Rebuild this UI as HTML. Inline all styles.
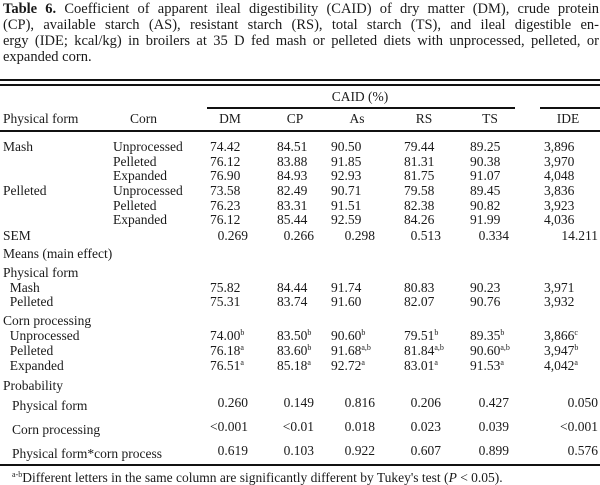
<!DOCTYPE html>
<html><head><meta charset="utf-8"><style>
body{margin:0;width:600px;height:485px;background:#fff;overflow:hidden;position:relative;font-family:"Liberation Serif",serif;color:#1a1a1a}
.t{position:absolute;font-size:13.5px;line-height:15px;white-space:nowrap}
.r{text-align:right}
.rule{position:absolute;background:#111}
sup{font-size:8px;vertical-align:5px;line-height:0}
#cap{position:absolute;left:3px;top:1px;width:596px;font-size:14.5px;line-height:16px}
#cap div{text-align:justify;text-align-last:justify;white-space:nowrap;height:16px}
#cap div.last{text-align-last:left}
</style></head><body>
<div id="cap"><div><b>Table 6.</b> Coefficient of apparent ileal digestibility (CAID) of dry matter (DM), crude protein</div><div>(CP), available starch (AS), resistant starch (RS), total starch (TS), and ileal digestible en-</div><div>ergy (IDE; kcal/kg) in broilers at 35 D fed mash or pelleted diets with unprocessed, pelleted, or</div><div class="last">expanded corn.</div></div>
<div class="rule" style="left:0;top:79px;width:600px;height:2px"></div>
<div class="rule" style="left:0;top:84px;width:600px;height:2px"></div>
<div class="rule" style="left:207px;top:107px;width:308px;height:1.5px"></div>
<div class="rule" style="left:540px;top:107px;width:60px;height:1.5px"></div>
<div class="rule" style="left:0;top:130px;width:600px;height:1.5px"></div>
<div class="rule" style="left:0;top:464px;width:600px;height:1.5px"></div>
<div id="tbl"></div>
<script>
const colsLeft=[210,277,331,404,470,544];
const colsRight=[248,314,375,441,509,598];
const hdrCenter=[230,295,357,424,490,568];
const headers=["DM","CP","As","RS","TS","IDE"];
const rows=[
 [147,"Mash","Unprocessed",["74.42","84.51","90.50","79.44","89.25","3,896"]],
 [162,"","Pelleted",["76.12","83.88","91.85","81.31","90.38","3,970"]],
 [176,"","Expanded",["76.90","84.93","92.93","81.75","91.07","4,048"]],
 [191,"Pelleted","Unprocessed",["73.58","82.49","90.71","79.58","89.45","3,836"]],
 [206,"","Pelleted",["76.23","83.31","91.51","82.38","90.82","3,923"]],
 [220,"","Expanded",["76.12","85.44","92.59","84.26","91.99","4,036"]],
 [288,"&nbsp;&nbsp;Mash","",["75.82","84.44","91.74","80.83","90.23","3,971"]],
 [302,"&nbsp;&nbsp;Pelleted","",["75.31","83.74","91.60","82.07","90.76","3,932"]],
 [336,"&nbsp;&nbsp;Unprocessed","",["74.00<sup>b</sup>","83.50<sup>b</sup>","90.60<sup>b</sup>","79.51<sup>b</sup>","89.35<sup>b</sup>","3,866<sup>c</sup>"]],
 [351,"&nbsp;&nbsp;Pelleted","",["76.18<sup>a</sup>","83.60<sup>b</sup>","91.68<sup>a,b</sup>","81.84<sup>a,b</sup>","90.60<sup>a,b</sup>","3,947<sup>b</sup>"]],
 [366,"&nbsp;&nbsp;Expanded","",["76.51<sup>a</sup>","85.18<sup>a</sup>","92.72<sup>a</sup>","83.01<sup>a</sup>","91.53<sup>a</sup>","4,042<sup>a</sup>"]]
];
const rrows=[
 [236,"SEM",["0.269","0.266","0.298","0.513","0.334","14.211"]],
 [403,"",["0.260","0.149","0.816","0.206","0.427","0.050"]],
 [427,"",["&lt;0.001","&lt;0.01","0.018","0.023","0.039","&lt;0.001"]],
 [451,"",["0.619","0.103","0.922","0.607","0.899","0.576"]]
];
const labels=[[97,360,"CAID (%)",true],[119,3,"Physical form"],[119,130,"Corn"],[254,3,"Means (main effect)"],[273,3,"Physical form"],[321,3,"Corn processing"],[386,3,"Probability"],[406,12,"Physical form"],[430,12,"Corn processing"],[454,12,"Physical form*corn process"]];
const root=document.getElementById('tbl');
function add(html,x,y,cls,name){const d=document.createElement('div');d.className='t '+(cls||'');d.innerHTML=html;d.style.top=(y-8)+'px';
 if(cls==='r'){d.style.right=(600-x)+'px';}else if(cls==='c'){d.style.left=(x-40)+'px';d.style.width='80px';d.style.textAlign='center';}else d.style.left=x+'px';
 
 
 root.appendChild(d);}
labels.forEach(l=>add(l[2],l[1],l[0],l[3]?'c':'','row-label'));
headers.forEach((h,i)=>add(h,hdrCenter[i],119,'c','column-header'));
rows.forEach(r=>{if(r[1])add(r[1],3,r[0],'','row-label');if(r[2])add(r[2],113,r[0],'','corn-label');r[3].forEach((v,i)=>add(v,colsLeft[i],r[0],'','cell-value'));});
rrows.forEach(r=>{if(r[1])add(r[1],3,r[0],'','row-label');r[2].forEach((v,i)=>add(v,colsRight[i],r[0],'r','cell-value'));});
add("<sup>a-b</sup>Different letters in the same column are significantly different by Tukey's test (<i>P</i> &lt; 0.05).",12,478,'','footnote');
</script>
</body></html>
